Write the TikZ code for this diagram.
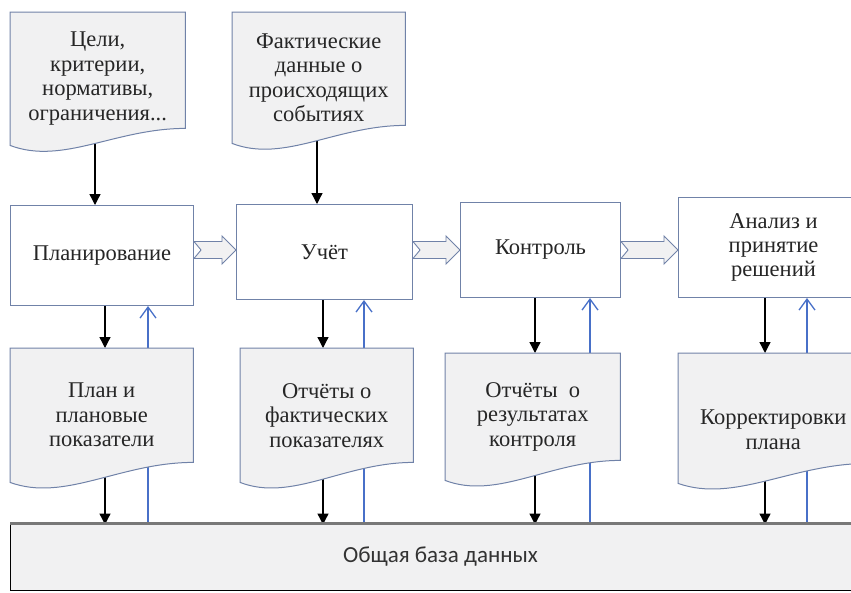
\documentclass[tikz,border=0pt]{standalone}
\usepackage{fontspec}
\setmainfont{Liberation Serif}
\newfontfamily\dbfont{Carlito}
\usepackage{tikz}
\usetikzlibrary{positioning,calc,arrows.meta}

\definecolor{bordc}{RGB}{112,130,168}
\definecolor{docfill}{RGB}{241,241,242}
\definecolor{upblue}{RGB}{72,112,200}
\definecolor{dbgray}{RGB}{120,120,120}

\pgfdeclarelayer{back}
\pgfdeclarelayer{mid}
\pgfsetlayers{back,mid,main}

\tikzset{
  box/.style={draw=bordc, line width=1pt, fill=white, align=center, inner sep=2pt,
    font=\fontsize{22.5}{24}\selectfont, text=black!85},
  doc/.style={align=center, inner sep=2pt, font=\fontsize{22.5}{24.5}\selectfont, text=black!85},
  docline/.style={draw=bordc, line width=1pt, fill=docfill},
  hollow/.style={draw=bordc, line width=0.9pt, fill=docfill},
  down/.style={line width=1.3pt, -{Triangle[length=11pt,width=11pt]}},
  up/.style={upblue, line width=1.3pt, -{Straight Barb[length=11pt,width=16pt,line width=1.3pt]}},
}

% document shape with a wavy bottom, #2 = rise of the right corner
\newcommand{\docshape}[2]{%
  \begin{pgfonlayer}{mid}
  \path[docline] let \p1=(#1.north west), \p2=(#1.south east) in
    (\p1) -- (\x2,\y1) -- (\x2,{\y2+#2pt})
    .. controls ({\x1+0.6*(\x2-\x1)},{\y2+#2pt}) and ({\x1+0.3*(\x2-\x1)},{\y2-20pt}) ..
    (\x1,\y2) -- cycle;
  \end{pgfonlayer}}

% wide hollow arrow with notched tail
\newcommand{\fatarrow}[2]{%
  \path[hollow] let \p1=(#1.east), \p2=(#2.west), \p3=(midrow) in
    (\x1,{\y3+8.5pt}) -- ({\x2-14pt},{\y3+8.5pt}) -- ({\x2-14pt},{\y3+14pt}) -- (\x2,\y3)
    -- ({\x2-14pt},{\y3-14pt}) -- ({\x2-14pt},{\y3-8.5pt}) -- (\x1,{\y3-8.5pt})
    -- ({\x1+7pt},\y3) -- cycle;}

\begin{document}
\begin{tikzpicture}[x=1pt,y=-1pt]
    \useasboundingbox (0,0) rectangle (851,592);
    \coordinate (midrow) at (0,250);

    % Process boxes
    \node[box, minimum width=183, minimum height=100, anchor=north west] (bplan) at (10,205) {Планирование};
    \node[box, minimum width=176, minimum height=95, anchor=north west] (buch) at (236,204) {Учёт};
    \node[box, minimum width=160, minimum height=95, anchor=north west] (bctrl) at (460,202) {Контроль};
    \node[box, minimum width=190, minimum height=100, anchor=north west] (banal) at (678,197) {Анализ и\\принятие\\решений};

    % Input documents
    \node[doc, minimum width=175, minimum height=133, anchor=north west] (dgoal) at (10,12) {Цели,\\критерии,\\нормативы,\\ограничения...};
    \node[doc, minimum width=173, minimum height=131, anchor=north west] (dfact) at (232,12) {Фактические\\данные о\\происходящих\\событиях};

    % Output documents
    \node[doc, minimum width=183, minimum height=134, anchor=north west] (dplan) at (10,348) {План и\\плановые\\показатели};
    \node[doc, minimum width=173, minimum height=134, anchor=north west] (drep) at (240,348) {Отчёты о\\фактических\\показателях};
    \node[doc, minimum width=175, minimum height=127, anchor=north west] (dctrl) at (445,353) {Отчёты~ о\\результатах\\контроля};
    \node[doc, minimum width=190, minimum height=130, anchor=north west] (dcorr) at (678,353) {\rule{0pt}{38pt}Корректировки\\плана};

    \docshape{dgoal}{17}
    \docshape{dfact}{18}
    \foreach \d in {dplan, drep, dctrl, dcorr}
      \docshape{\d}{20};

    % Database
    \node[fill=docfill, draw=black, line width=1pt, minimum width=860, minimum height=67, anchor=north west,
      font=\dbfont\fontsize{23}{26}\selectfont, text=black!80] (dbase) at (10,523) {Общая база данных};
    \draw[dbgray, line width=3pt] (dbase.north west) -- (dbase.north east);

    % Flow between the boxes
    \fatarrow{bplan}{buch}
    \fatarrow{buch}{bctrl}
    \fatarrow{bctrl}{banal}

    % Vertical connectors
    \begin{pgfonlayer}{back}
    \coordinate (xg) at (95,0);
    \coordinate (xf) at (317,0);
    \draw[down] (dgoal.center -| xg) -- (bplan.north -| xg);
    \draw[down] (dfact.center -| xf) -- (buch.north -| xf);
    \foreach \b/\d/\xa/\xb in {bplan/dplan/105/148, buch/drep/323/364, bctrl/dctrl/535/590, banal/dcorr/765/807} {
      \coordinate (xa) at (\xa,0);
      \coordinate (xb) at (\xb,0);
      \draw[down] (\b.south -| xa) -- (\d.north -| xa);
      \draw[down] (\d.center -| xa) -- ([yshift=-1.5pt]dbase.north -| xa);
      \draw[up] ([yshift=-1.5pt]dbase.north -| xb) -- (\b.south -| xb);
    }
    \end{pgfonlayer}

\end{tikzpicture}
\end{document}
